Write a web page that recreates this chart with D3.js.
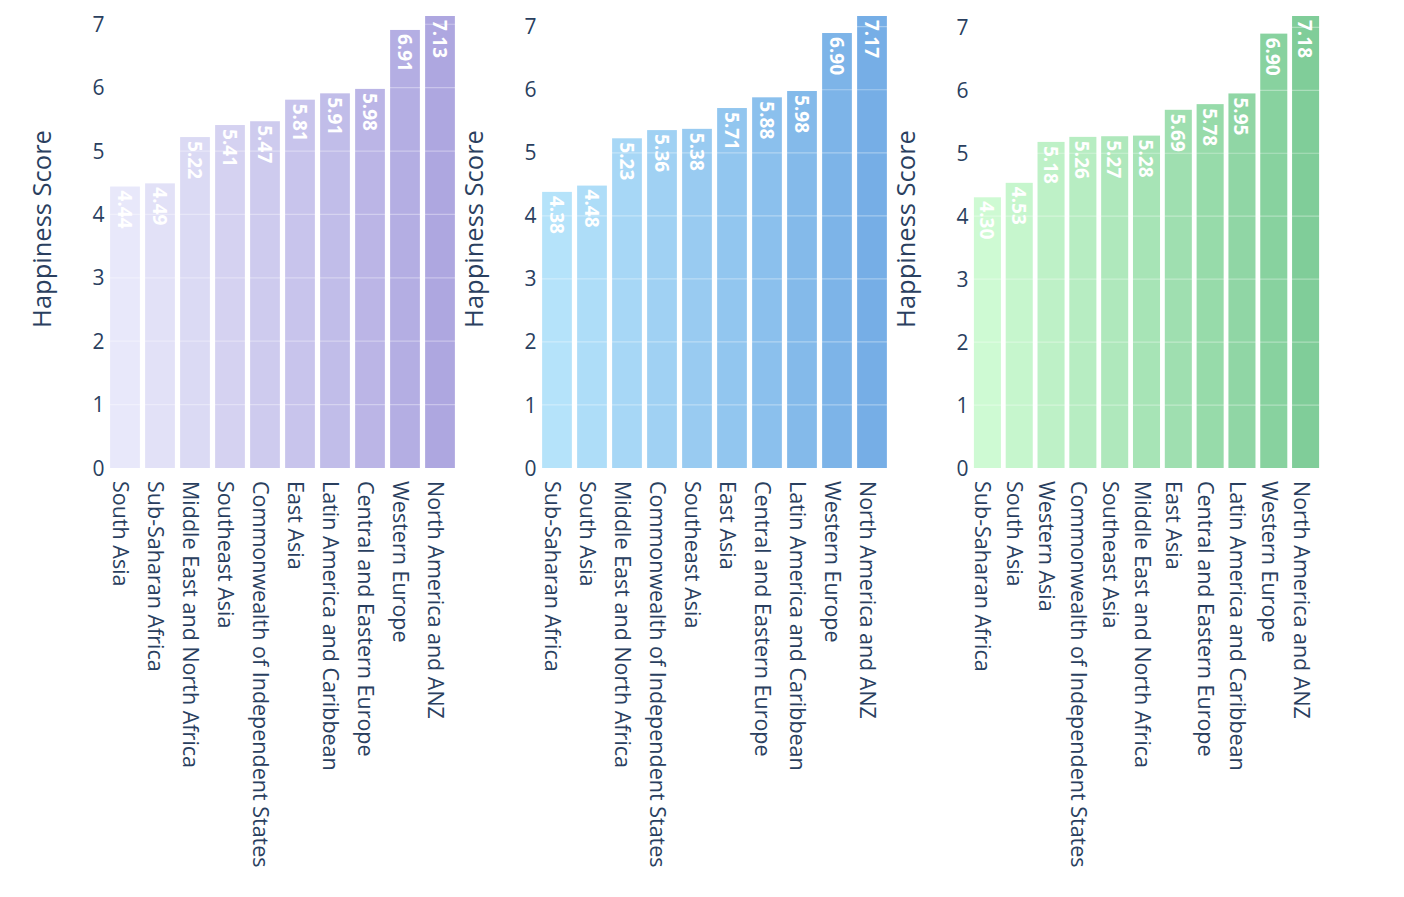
<!DOCTYPE html>
<html>
<head>
<meta charset="utf-8">
<script src="https://cdn.jsdelivr.net/npm/d3@7"></script>
<style>
  html, body { margin: 0; padding: 0; background: #fff; }
  svg { display: block; font-family: "Open Sans", verdana, arial, sans-serif; }
</style>
</head>
<body>
<svg id="chart" width="1404" height="897"></svg>
<script>
// ---- data ----
const categories1 = ["South Asia", "Sub-Saharan Africa", "Middle East and North Africa", "Southeast Asia",
  "Commonwealth of Independent States", "East Asia", "Latin America and Caribbean",
  "Central and Eastern Europe", "Western Europe", "North America and ANZ"];
const values1 = [4.44, 4.49, 5.22, 5.41, 5.47, 5.81, 5.91, 5.98, 6.91, 7.13];

const categories2 = ["Sub-Saharan Africa", "South Asia", "Middle East and North Africa",
  "Commonwealth of Independent States", "Southeast Asia", "East Asia",
  "Central and Eastern Europe", "Latin America and Caribbean", "Western Europe", "North America and ANZ"];
const values2 = [4.38, 4.48, 5.23, 5.36, 5.38, 5.71, 5.88, 5.98, 6.90, 7.17];

const categories3 = ["Sub-Saharan Africa", "South Asia", "Western Asia",
  "Commonwealth of Independent States", "Southeast Asia", "Middle East and North Africa", "East Asia",
  "Central and Eastern Europe", "Latin America and Caribbean", "Western Europe", "North America and ANZ"];
const values3 = [4.30, 4.53, 5.18, 5.26, 5.27, 5.28, 5.69, 5.78, 5.95, 6.90, 7.18];

const yTicks = [0, 1, 2, 3, 4, 5, 6, 7];
const yTitle = "Happiness Score";

// ---- style ----
const panels = [
  { cats: categories1, vals: values1, left: 107.5, c0: "#E8E8FA", c1: "#AEA7E0" },
  { cats: categories2, vals: values2, left: 539.5, c0: "#B5E3FA", c1: "#76AEE6" },
  { cats: categories3, vals: values3, left: 971.5, c0: "#CEFAD3", c1: "#80CD99" }
];
const plotW = 350, plotTop = 16, plotBottom = 468;
const textColor = "#2a3f5f";

const svg = d3.select("#chart");

panels.forEach(p => {
  const g = svg.append("g");
  const x = d3.scaleBand().domain(p.cats).range([p.left, p.left + plotW])
    .paddingInner(0.15).paddingOuter(0.075);
  const y = d3.scaleLinear().domain([0, d3.max(p.vals)]).range([plotBottom, plotTop]);
  const col = d3.scaleLinear().domain([0, p.cats.length - 1]).range([p.c0, p.c1])
    .interpolate(d3.interpolateRgb);

  // bars
  g.selectAll("rect.bar").data(p.cats).join("rect")
    .attr("class", "bar")
    .attr("x", d => x(d))
    .attr("width", x.bandwidth())
    .attr("y", (d, i) => y(p.vals[i]))
    .attr("height", (d, i) => y(0) - y(p.vals[i]))
    .attr("fill", (d, i) => col(i));

  // gridlines (show faintly through bars)
  g.selectAll("line.grid").data(yTicks.filter(t => t > 0 && t <= d3.max(p.vals))).join("line")
    .attr("class", "grid")
    .attr("x1", p.left).attr("x2", p.left + plotW)
    .attr("y1", d => y(d)).attr("y2", d => y(d))
    .attr("stroke", "#fff").attr("stroke-opacity", 0.35).attr("stroke-width", 1.2);

  // y tick labels
  g.selectAll("text.ytick").data(yTicks).join("text")
    .attr("class", "ytick")
    .attr("x", p.left - 3)
    .attr("y", d => y(d))
    .attr("dy", "0.36em")
    .attr("text-anchor", "end")
    .attr("font-size", 21)
    .attr("fill", textColor)
    .text(d => d);

  // bar value labels
  g.selectAll("text.val").data(p.cats).join("text")
    .attr("class", "val")
    .attr("transform", (d, i) => `translate(${x(d) + x.bandwidth() / 2},${y(p.vals[i]) + 4}) rotate(90)`)
    .attr("dy", 7.5)
    .attr("text-anchor", "start")
    .attr("font-size", 19)
    .attr("font-weight", "bold")
    .attr("fill", "#fff")
    .text((d, i) => p.vals[i].toFixed(2));

  // category labels
  g.selectAll("text.cat").data(p.cats).join("text")
    .attr("class", "cat")
    .attr("transform", d => `translate(${x(d) + x.bandwidth() / 2},481) rotate(90)`)
    .attr("dy", 12)
    .attr("text-anchor", "start")
    .attr("font-size", 21.5)
    .attr("fill", textColor)
    .text(d => d);

  // axis title
  g.append("text")
    .attr("transform", `translate(${p.left - 66},229) rotate(-90)`)
    .attr("text-anchor", "middle")
    .attr("dy", "0.36em")
    .attr("font-size", 25.5)
    .attr("fill", textColor)
    .text(yTitle);
});
</script>
</body>
</html>
